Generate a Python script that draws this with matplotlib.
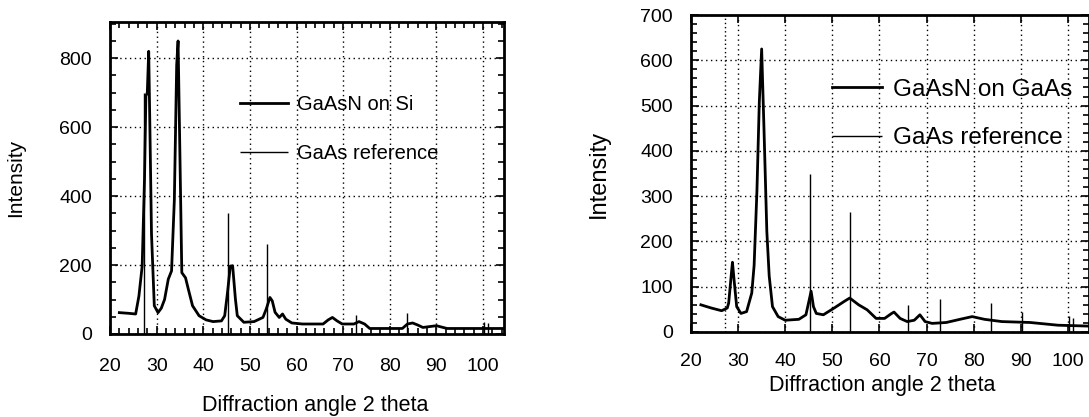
import numpy as np
import matplotlib
matplotlib.use("Agg")
import matplotlib.pyplot as plt
from matplotlib.ticker import MultipleLocator

plt.rcParams['font.family'] = ['Liberation Sans', 'DejaVu Sans']

# --- left panel: GaAsN on Si ---
si_angle = [22.0, 24.0, 25.5, 26.2, 26.9, 27.4, 27.7, 28.0, 28.3, 28.6, 28.9, 29.5,
            30.3, 31.0, 31.7, 32.5, 33.2, 33.8, 34.3, 34.6, 34.9, 35.4, 36.2, 36.8,
            37.7, 39.1, 40.6, 42.1, 43.9, 44.6, 45.2, 45.8, 46.3, 46.9, 47.3, 48.7,
            50.9, 52.8, 53.5, 54.3, 54.8, 55.4, 56.3, 57.0, 57.7, 59.0, 61.3, 65.7,
            66.8, 67.7, 68.7, 69.8, 72.3, 73.4, 74.6, 75.7, 82.7, 83.8, 84.9, 86.0,
            87.1, 90.0, 92.3, 99.6, 104.5]
si_int = [62, 60, 58, 110, 197, 450, 690, 700, 820, 560, 290, 82,
          62, 75, 100, 159, 183, 389, 780, 850, 600, 178, 163, 130,
          82, 53, 41, 36, 38, 53, 120, 197, 198, 101, 53, 34,
          36, 48, 72, 106, 96, 63, 48, 58, 43, 32, 29, 29,
          41, 48, 38, 29, 29, 36, 29, 16, 16, 29, 32, 26,
          19, 24, 16, 16, 16]
si_ref_angle = [27.3, 45.3, 53.7, 72.8, 83.7, 100.3, 101.0]
si_ref_int = [700, 350, 262, 55, 60, 35, 32]

# --- right panel: GaAsN on GaAs ---
gaas_angle = [22.1, 24.3, 26.5, 27.7, 28.0, 28.6, 28.8, 29.2, 29.7, 30.6, 31.8, 32.9,
              33.4, 34.0, 34.5, 35.0, 35.5, 36.1, 36.6, 37.3, 38.5, 40.0, 42.9, 44.4,
              45.1, 45.5, 46.0, 46.6, 48.1, 50.4, 52.6, 53.7, 55.6, 57.4, 59.3, 61.1,
              62.6, 63.1, 64.4, 65.9, 67.4, 68.6, 69.7, 71.2, 74.2, 77.1, 79.7, 82.3,
              86.0, 92.0, 97.9, 104.5]
gaas_int = [60, 53, 47, 53, 64, 132, 154, 109, 56, 41, 45, 86,
            147, 312, 507, 625, 447, 222, 124, 56, 34, 26, 28, 38,
            71, 90, 56, 41, 38, 53, 68, 75, 60, 49, 30, 30,
            41, 44, 30, 23, 26, 38, 23, 19, 21, 28, 34, 28,
            23, 21, 15, 13]
gaas_ref_angle = [27.3, 45.3, 53.7, 66.0, 72.8, 83.7, 90.3, 100.3, 101.0]
gaas_ref_int = [700, 350, 265, 60, 72, 65, 45, 35, 30]

xticks = [20, 30, 40, 50, 60, 70, 80, 90, 100]

fig = plt.figure(figsize=(10.89, 4.17), dpi=100)
ax1 = fig.add_axes([110 / 1089, 1 - 334 / 417, 394 / 1089, 312 / 417])
ax2 = fig.add_axes([691 / 1089, 1 - 332 / 417, 398 / 1089, 317 / 417])


def style(ax, ymax, ymajor, yminor, xminor, xpad):
    ax.set_xlim(20, 104.5)
    ax.set_ylim(0, ymax)
    ax.set_xticks(xticks)
    ax.yaxis.set_major_locator(MultipleLocator(ymajor))
    ax.yaxis.set_minor_locator(MultipleLocator(yminor))
    if xminor:
        ax.xaxis.set_minor_locator(MultipleLocator(xminor))
    ax.grid(True, which='major', linestyle=(0, (1, 2.5)), color='black', linewidth=1.0)
    ax.tick_params(which='both', direction='in', top=True, right=True, colors='black',
                   labelsize=14)
    ax.tick_params(which='major', length=6, width=1.2)
    ax.tick_params(which='minor', length=4, width=1.2)
    ax.tick_params(axis='x', pad=xpad)
    ax.tick_params(axis='y', pad=13)
    for s in ax.spines.values():
        s.set_linewidth(2)
    ax.set_xlabel('Diffraction angle 2 theta', fontsize=15.5)


ax1.plot(si_angle, si_int, color='black', linewidth=2, label='GaAsN on Si')
ax1.vlines(si_ref_angle, 0, si_ref_int, color='black', linewidth=1, label='GaAs reference')
style(ax1, 905, 200, 50, 2, 17)
ax1.set_ylabel('Intensity', fontsize=15)
ax1.xaxis.set_label_coords(0.52, -0.195)
ax1.yaxis.set_label_coords(-0.215, 0.5)
ax1.legend(loc='upper left', bbox_to_anchor=(0.283, 0.825), frameon=False, fontsize=14.5,
           handlelength=2.4, handletextpad=0.45, labelspacing=1.5)

ax2.plot(gaas_angle, gaas_int, color='black', linewidth=2, label='GaAsN on GaAs')
ax2.vlines(gaas_ref_angle[1:], 0, gaas_ref_int[1:], color='black', linewidth=1,
           label='GaAs reference')
ax2.vlines(gaas_ref_angle[:1], 0, gaas_ref_int[:1], color='black', linewidth=1,
           linestyle=(0, (1, 2)))
style(ax2, 700, 100, 20, None, 15)
ax2.set_ylabel('Intensity', fontsize=17)
ax2.xaxis.set_label_coords(0.48, -0.135)
ax2.yaxis.set_label_coords(-0.205, 0.5)
ax2.legend(loc='upper left', bbox_to_anchor=(0.30, 0.868), frameon=False, fontsize=17.5,
           handlelength=2.05, handletextpad=0.45, labelspacing=1.1)

fig.savefig('out.png', dpi=100)
